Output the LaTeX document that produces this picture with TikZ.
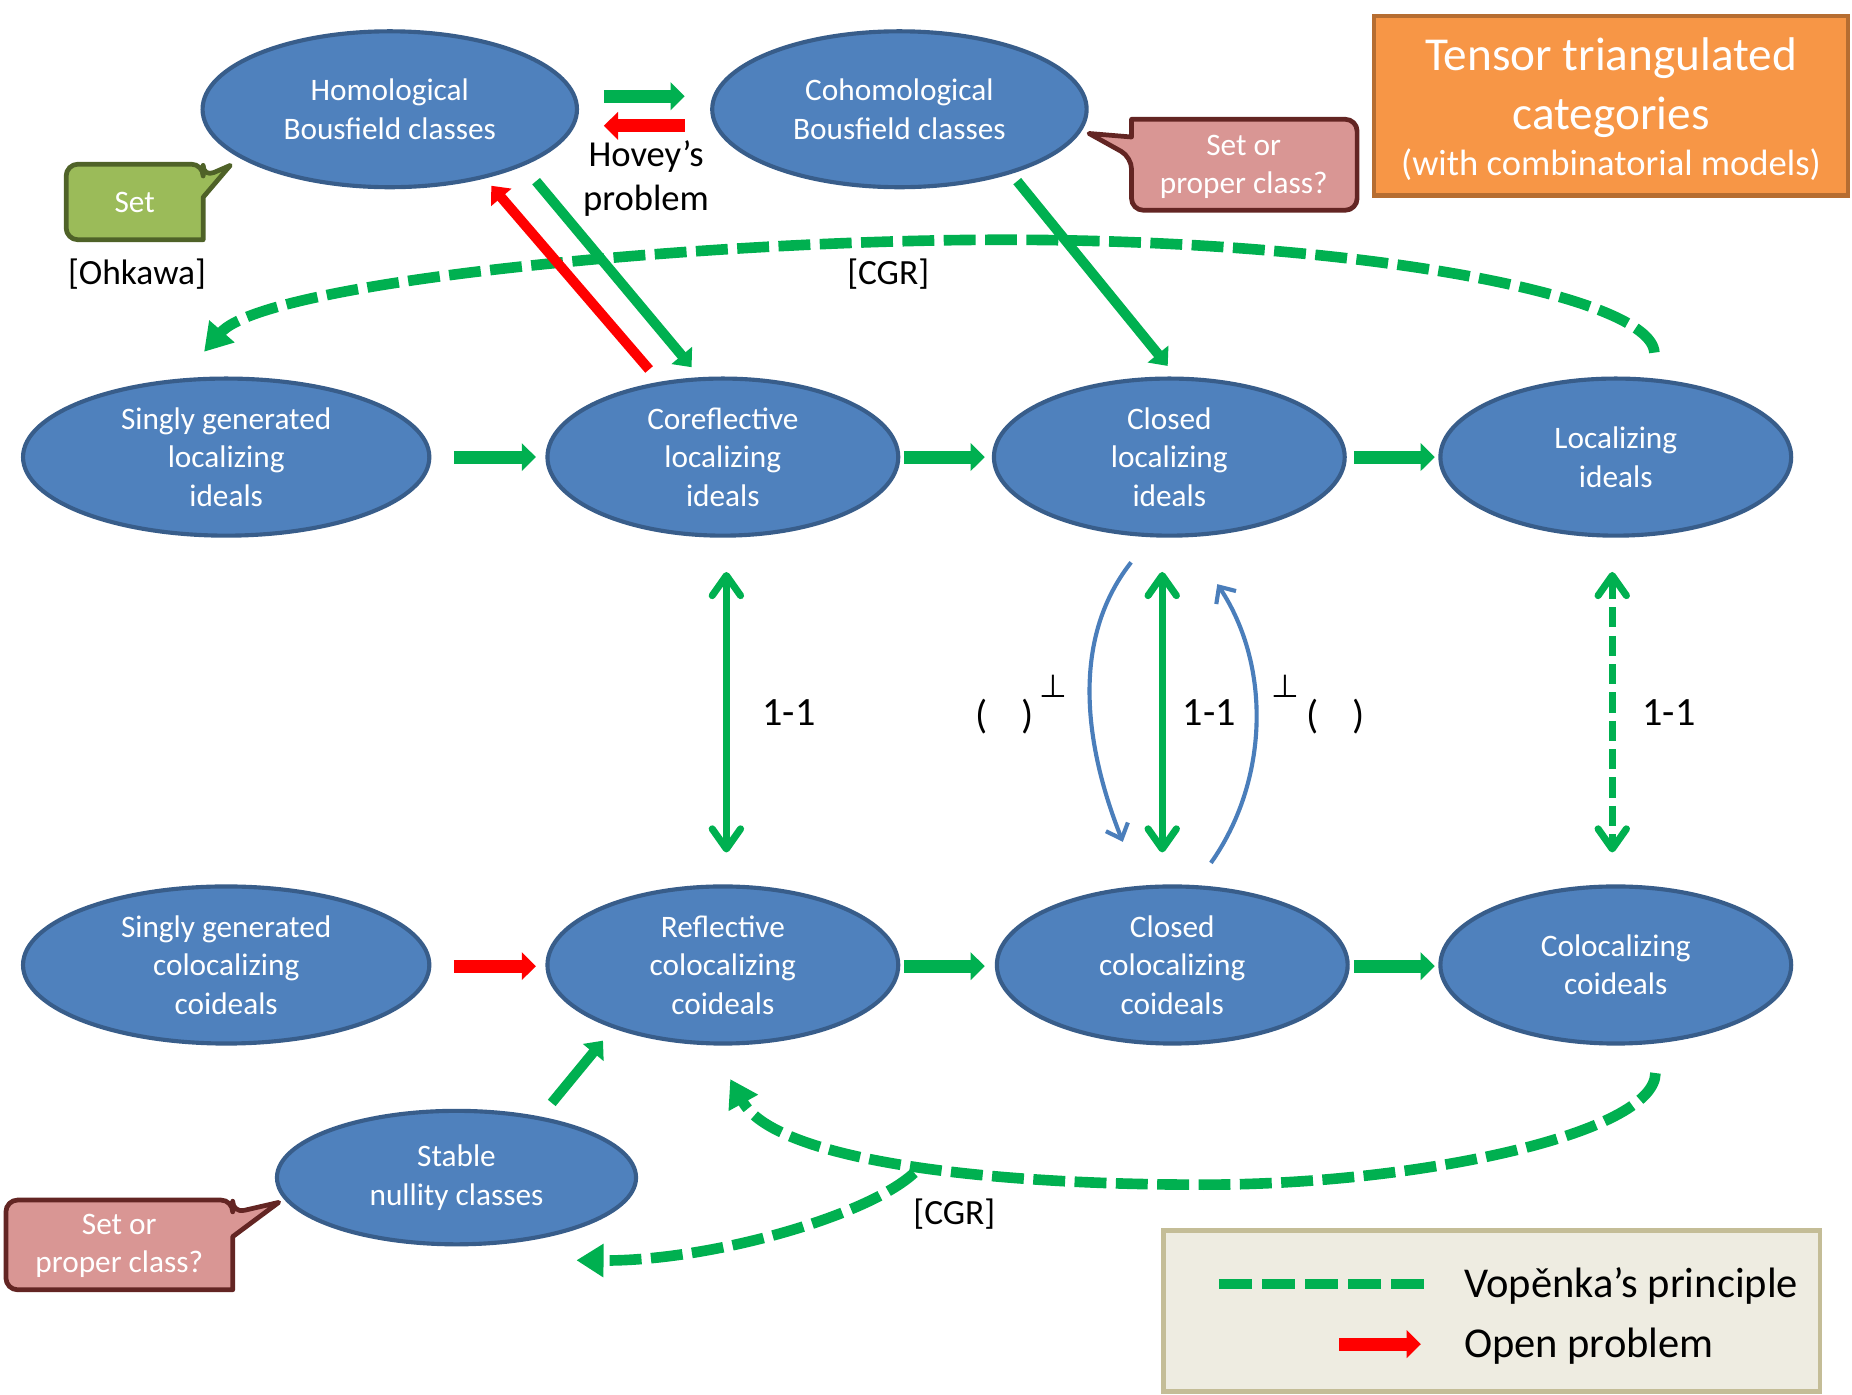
\documentclass[tikz,border=0pt]{standalone}
\usepackage{fontspec}
\setmainfont{Carlito}
\newfontfamily\symfont{DejaVu Sans}
\usetikzlibrary{shapes.geometric,arrows.meta}

\definecolor{ellfill}{HTML}{4F81BD}
\definecolor{elledge}{HTML}{385D8A}
\definecolor{arrgreen}{HTML}{00B050}
\definecolor{arrred}{HTML}{FF0000}
\definecolor{blueline}{HTML}{4A7EBB}
\definecolor{greenfill}{HTML}{9BBB59}
\definecolor{greenedge}{HTML}{4F6228}
\definecolor{pinkfill}{HTML}{D99694}
\definecolor{pinkedge}{HTML}{632523}
\definecolor{orangefill}{HTML}{F79646}
\definecolor{orangeedge}{HTML}{B66D31}
\definecolor{legfill}{HTML}{EEECE1}
\definecolor{legedge}{HTML}{C4BD97}

\begin{document}
\begin{tikzpicture}[x=1pt,y=-1pt,
  ell/.style={ellipse, draw=elledge, fill=ellfill, line width=3.5pt, inner sep=0pt,
    text=white, align=center, font=\fontsize{26.5}{32.5}\selectfont},
  blockarr/.style={line width=11pt, -{Triangle[width=23pt,length=12pt]}},
  diagarr/.style={line width=8.5pt, -{Triangle[width=22pt,length=13pt]}},
  vdouble/.style={line width=6pt,
    {Straight Barb[round,length=17pt,width=24pt]}-{Straight Barb[round,length=17pt,width=24pt]}},
  dcurve/.style={draw=arrgreen, line width=9pt, dash pattern=on 27pt off 8pt,
    -{Triangle[width=27pt,length=23pt]}},
  bluearr/.style={draw=blueline, line width=3.5pt, -{Straight Barb[length=11pt,width=20pt]}},
  lab/.style={font=\fontsize{30}{37}\selectfont, align=center},
  onetoone/.style={font=\fontsize{34}{40}\selectfont},
  callg/.style={draw=greenedge, fill=greenfill, line width=4pt, line join=round, rounded corners=10pt},
  callr/.style={draw=pinkedge, fill=pinkfill, line width=4pt, line join=round, rounded corners=10pt},
  calltext/.style={text=white, align=center, font=\fontsize{26.5}{32}\selectfont}
]
\useasboundingbox (0,0) rectangle (1568,1181);
\fill[white] (0,0) rectangle (1568,1181);

% ---------- ellipses ----------
\node[ell, minimum width=317pt, minimum height=132pt] (hom) at (330,92.5) {Homological\\Bousfield classes};
\node[ell, minimum width=317pt, minimum height=132pt] (coh) at (761.5,92.5) {Cohomological\\Bousfield classes};
\node[ell, minimum width=344pt, minimum height=133pt] (sgl) at (191.5,387) {Singly generated\\localizing\\ideals};
\node[ell, minimum width=297pt, minimum height=133pt] (cor) at (612,387) {Coreflective\\localizing\\ideals};
\node[ell, minimum width=297pt, minimum height=133pt] (cll) at (990,387) {Closed\\localizing\\ideals};
\node[ell, minimum width=297pt, minimum height=133pt] (loc) at (1368,387) {Localizing\\ideals};
\node[ell, minimum width=344pt, minimum height=133pt] (sgc) at (191.5,817) {Singly generated\\colocalizing\\coideals};
\node[ell, minimum width=297pt, minimum height=133pt] (ref) at (612,817) {Reflective\\colocalizing\\coideals};
\node[ell, minimum width=297pt, minimum height=133pt] (ccl) at (992.5,817) {Closed\\colocalizing\\coideals};
\node[ell, minimum width=297pt, minimum height=133pt] (col) at (1368,817) {Colocalizing\\coideals};
\node[ell, minimum width=304pt, minimum height=113pt] (stb) at (386.5,997) {Stable\\nullity classes};

% ---------- dashed curves (Vopenka's principle) ----------
\draw[dcurve, shorten <=22pt, shorten >=30pt]
  (loc.63.5) .. controls (1398,250) and (1150,203) .. (850,203)
  .. controls (600,203) and (225,238) .. (sgl.120);
\draw[dcurve, shorten <=25pt, shorten >=32.6pt]
  (col.-63) .. controls (1401,960) and (1200,1003) .. (1019,1003)
  .. controls (820,1003) and (655,980) .. (ref.-98.5);
\coordinate (brk) at (774,993);
\coordinate (stbtip) at (488,1067);
\draw[dcurve] (brk) .. controls (734,1030) and (600,1068) .. (stbtip);

\node[lab] (cgrtop) at (752,232) {[CGR]};
\node[lab] (cgrbot) at (808,1028) {[CGR]};

% ---------- row arrows ----------
\draw[blockarr, arrgreen, shorten <=19pt, shorten >=8pt] (sgl.east) -- (cor.west);
\draw[blockarr, arrgreen, shorten <=3pt, shorten >=6pt] (cor.east) -- (cll.west);
\draw[blockarr, arrgreen, shorten <=6pt, shorten >=3pt] (cll.east) -- (loc.west);
\draw[blockarr, arrred, shorten <=19pt, shorten >=8pt] ([yshift=-1pt]sgc.east) -- ([yshift=-1pt]ref.west);
\draw[blockarr, arrgreen, shorten <=3pt, shorten >=8.5pt] ([yshift=-1pt]ref.east) -- ([yshift=-1pt]ccl.west);
\draw[blockarr, arrgreen, shorten <=3.5pt, shorten >=3pt] ([yshift=-1pt]ccl.east) -- ([yshift=-1pt]col.west);

% ---------- Hovey's problem ----------
\draw[blockarr, arrgreen, shorten <=21pt, shorten >=21.5pt] ([yshift=11pt]hom.east) -- ([yshift=11pt]coh.west);
\draw[blockarr, arrred, shorten <=21.5pt, shorten >=21pt] ([yshift=-14pt]coh.west) -- ([yshift=-14pt]hom.east);
\node[lab, font=\fontsize{31}{37}\selectfont] (hovey) at (547,151) {Hovey’s\\problem};

% ---------- diagonal arrows ----------
\draw[diagarr, arrgreen, shorten <=16.8pt, shorten >=11pt] (hom.-23) -- (cor.106.5);
\draw[diagarr, arrred, shorten <=13.7pt, shorten >=8.2pt] (cor.130) -- (hom.-36);
\draw[diagarr, arrgreen, shorten <=8pt, shorten >=11.6pt] (coh.-30) -- (cll.85.5);
\draw[diagarr, arrgreen, shorten <=15pt, shorten >=13.5pt] (stb.36) -- (ref.210);

% ---------- one-to-one correspondences ----------
\draw[vdouble, arrgreen, shorten <=29pt, shorten >=27pt] ([xshift=3pt]cor.south) -- ([xshift=3pt]ref.north);
\draw[vdouble, arrgreen, shorten <=29pt, shorten >=27pt] ([xshift=-6pt]cll.south) -- ([xshift=-8.5pt]ccl.north);
\draw[vdouble, arrgreen, dash pattern=on 17pt off 7pt, shorten <=29pt, shorten >=27pt] ([xshift=-3pt]loc.south) -- ([xshift=-3pt]col.north);
\node[onetoone] (oa) at (668,603) {1-1};
\node[onetoone] (ob) at (1024,603) {1-1};
\node[onetoone] (oc) at (1413,603) {1-1};

% ---------- orthogonal maps ----------
\draw[bluearr, shorten <=27pt, shorten >=40pt]
  (cll.-103.7) .. controls (905,543) and (919.4,634) .. (ccl.112.4);
\draw[bluearr, shorten <=23pt, shorten >=47.5pt]
  (ccl.74.6) .. controls (1073.8,662) and (1077,564.7) .. (cll.-78.6);
\node[onetoone] (perpl) at (850.5,607) {(\hspace{28.5pt})};
\node[font=\symfont\fontsize{27}{30}\selectfont] (perpls) at (892,581) {⊥};
\node[onetoone] (perpr) at (1130.5,607) {(\hspace{28.5pt})};
\node[font=\symfont\fontsize{27}{30}\selectfont] (perprs) at (1088,581) {⊥};

% ---------- callouts ----------
\draw[callg] (56,171) -- (56,139) -- (172,139) -- (172,150) [sharp corners] -- (195,140)
  -- (172,167) -- (172,203) [rounded corners=10pt] -- (56,203) -- cycle;
\node[calltext] (setg) at (114,171) {Set};
\node[lab] (ohk) at (116,232) {[Ohkawa]};

\draw[callr] (1053,101) -- (1149,101) -- (1149,178) -- (958,178) -- (958,133) [sharp corners]
  -- (922,113) -- (958,116) -- (958,101) [rounded corners=10pt] -- cycle;
\node[calltext] (setr) at (1053,141) {Set or\\proper class?};

\draw[callr] (101,1016) -- (197,1016) -- (197,1027) [sharp corners] -- (236,1018)
  -- (197,1047) -- (197,1092) [rounded corners=10pt] -- (5,1092) -- (5,1016) -- cycle;
\node[calltext] (setb) at (101,1055) {Set or\\proper class?};

% ---------- title ----------
\node[draw=orangeedge, fill=orangefill, line width=3.5pt, minimum width=401pt, minimum height=152pt] (title) at (1364,89.5) {};
\node[text=white, align=center, font=\fontsize{40}{50}\selectfont] (titletext) at (1364,92.5)
  {Tensor triangulated\\categories\\[-11pt]{\fontsize{31}{38}\selectfont(with combinatorial models)}};

% ---------- legend ----------
\node[draw=legedge, fill=legfill, line width=4pt, minimum width=556pt, minimum height=136pt] (leg) at (1263,1110) {};
\coordinate (lva) at (1032,1087);
\coordinate (lvb) at (1206,1087);
\draw[arrgreen, line width=9pt, dash pattern=on 28pt off 8.5pt] (lva) -- (lvb);
\coordinate (lra) at (1134,1138);
\coordinate (lrb) at (1203,1138);
\draw[blockarr, arrred] (lra) -- (lrb);
\node[anchor=west, font=\fontsize{36}{42}\selectfont] (vp) at (1236,1089) {Vopěnka’s principle};
\node[anchor=west, font=\fontsize{36}{42}\selectfont] (op) at (1236,1140) {Open problem};
\end{tikzpicture}
\end{document}
